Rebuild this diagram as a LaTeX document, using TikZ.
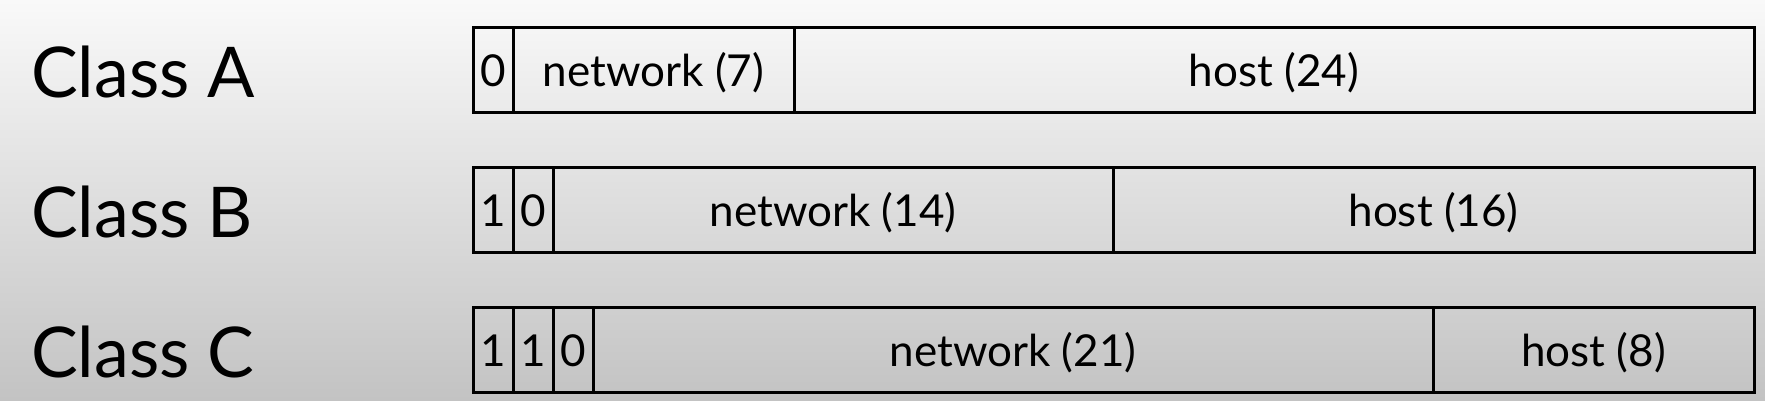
\documentclass[tikz,border=0pt]{standalone}
\usepackage{fontspec}
\setmainfont{Lato}
\definecolor{bgtop}{RGB}{249,249,249}
\definecolor{bgbot}{RGB}{195,195,195}
\begin{document}
\begin{tikzpicture}[x=1pt,y=-1pt,
  field/.style={draw=black, line width=3pt, inner sep=0pt, outer sep=0pt,
    anchor=north west, minimum height=85pt, text height=34pt, text depth=0pt,
    font=\fontsize{44}{50}\selectfont},
  classlabel/.style={anchor=base west, inner sep=0pt,
    font=\fontsize{70}{76}\selectfont}]
\shade[top color=bgtop, bottom color=bgbot] (0,0) rectangle (1765,400);
\useasboundingbox (0,0) rectangle (1765,400);
% labels
\node[classlabel] (la) at (31,97) {Class A};
\node[classlabel] (lb) at (31,237) {Class B};
\node[classlabel] (lc) at (31,377) {Class C};
% Class A
\node[field, minimum width=40pt]  (a0)    at (473,27) {0};
\node[field, minimum width=281pt] (anet)  at (513,27) {network (7)};
\node[field, minimum width=960pt] (ahost) at (794,27) {host (24)};
% Class B
\node[field, minimum width=40pt]  (b1)    at (473,167) {1};
\node[field, minimum width=40pt]  (b0)    at (513,167) {0};
\node[field, minimum width=560pt] (bnet)  at (553,167) {network (14)};
\node[field, minimum width=641pt] (bhost) at (1113,167) {host (16)};
% Class C
\node[field, minimum width=40pt]  (c1)    at (473,307) {1};
\node[field, minimum width=40pt]  (c2)    at (513,307) {1};
\node[field, minimum width=40pt]  (c0)    at (553,307) {0};
\node[field, minimum width=840pt] (cnet)  at (593,307) {network (21)};
\node[field, minimum width=321pt] (chost) at (1433,307) {host (8)};
\end{tikzpicture}
\end{document}
